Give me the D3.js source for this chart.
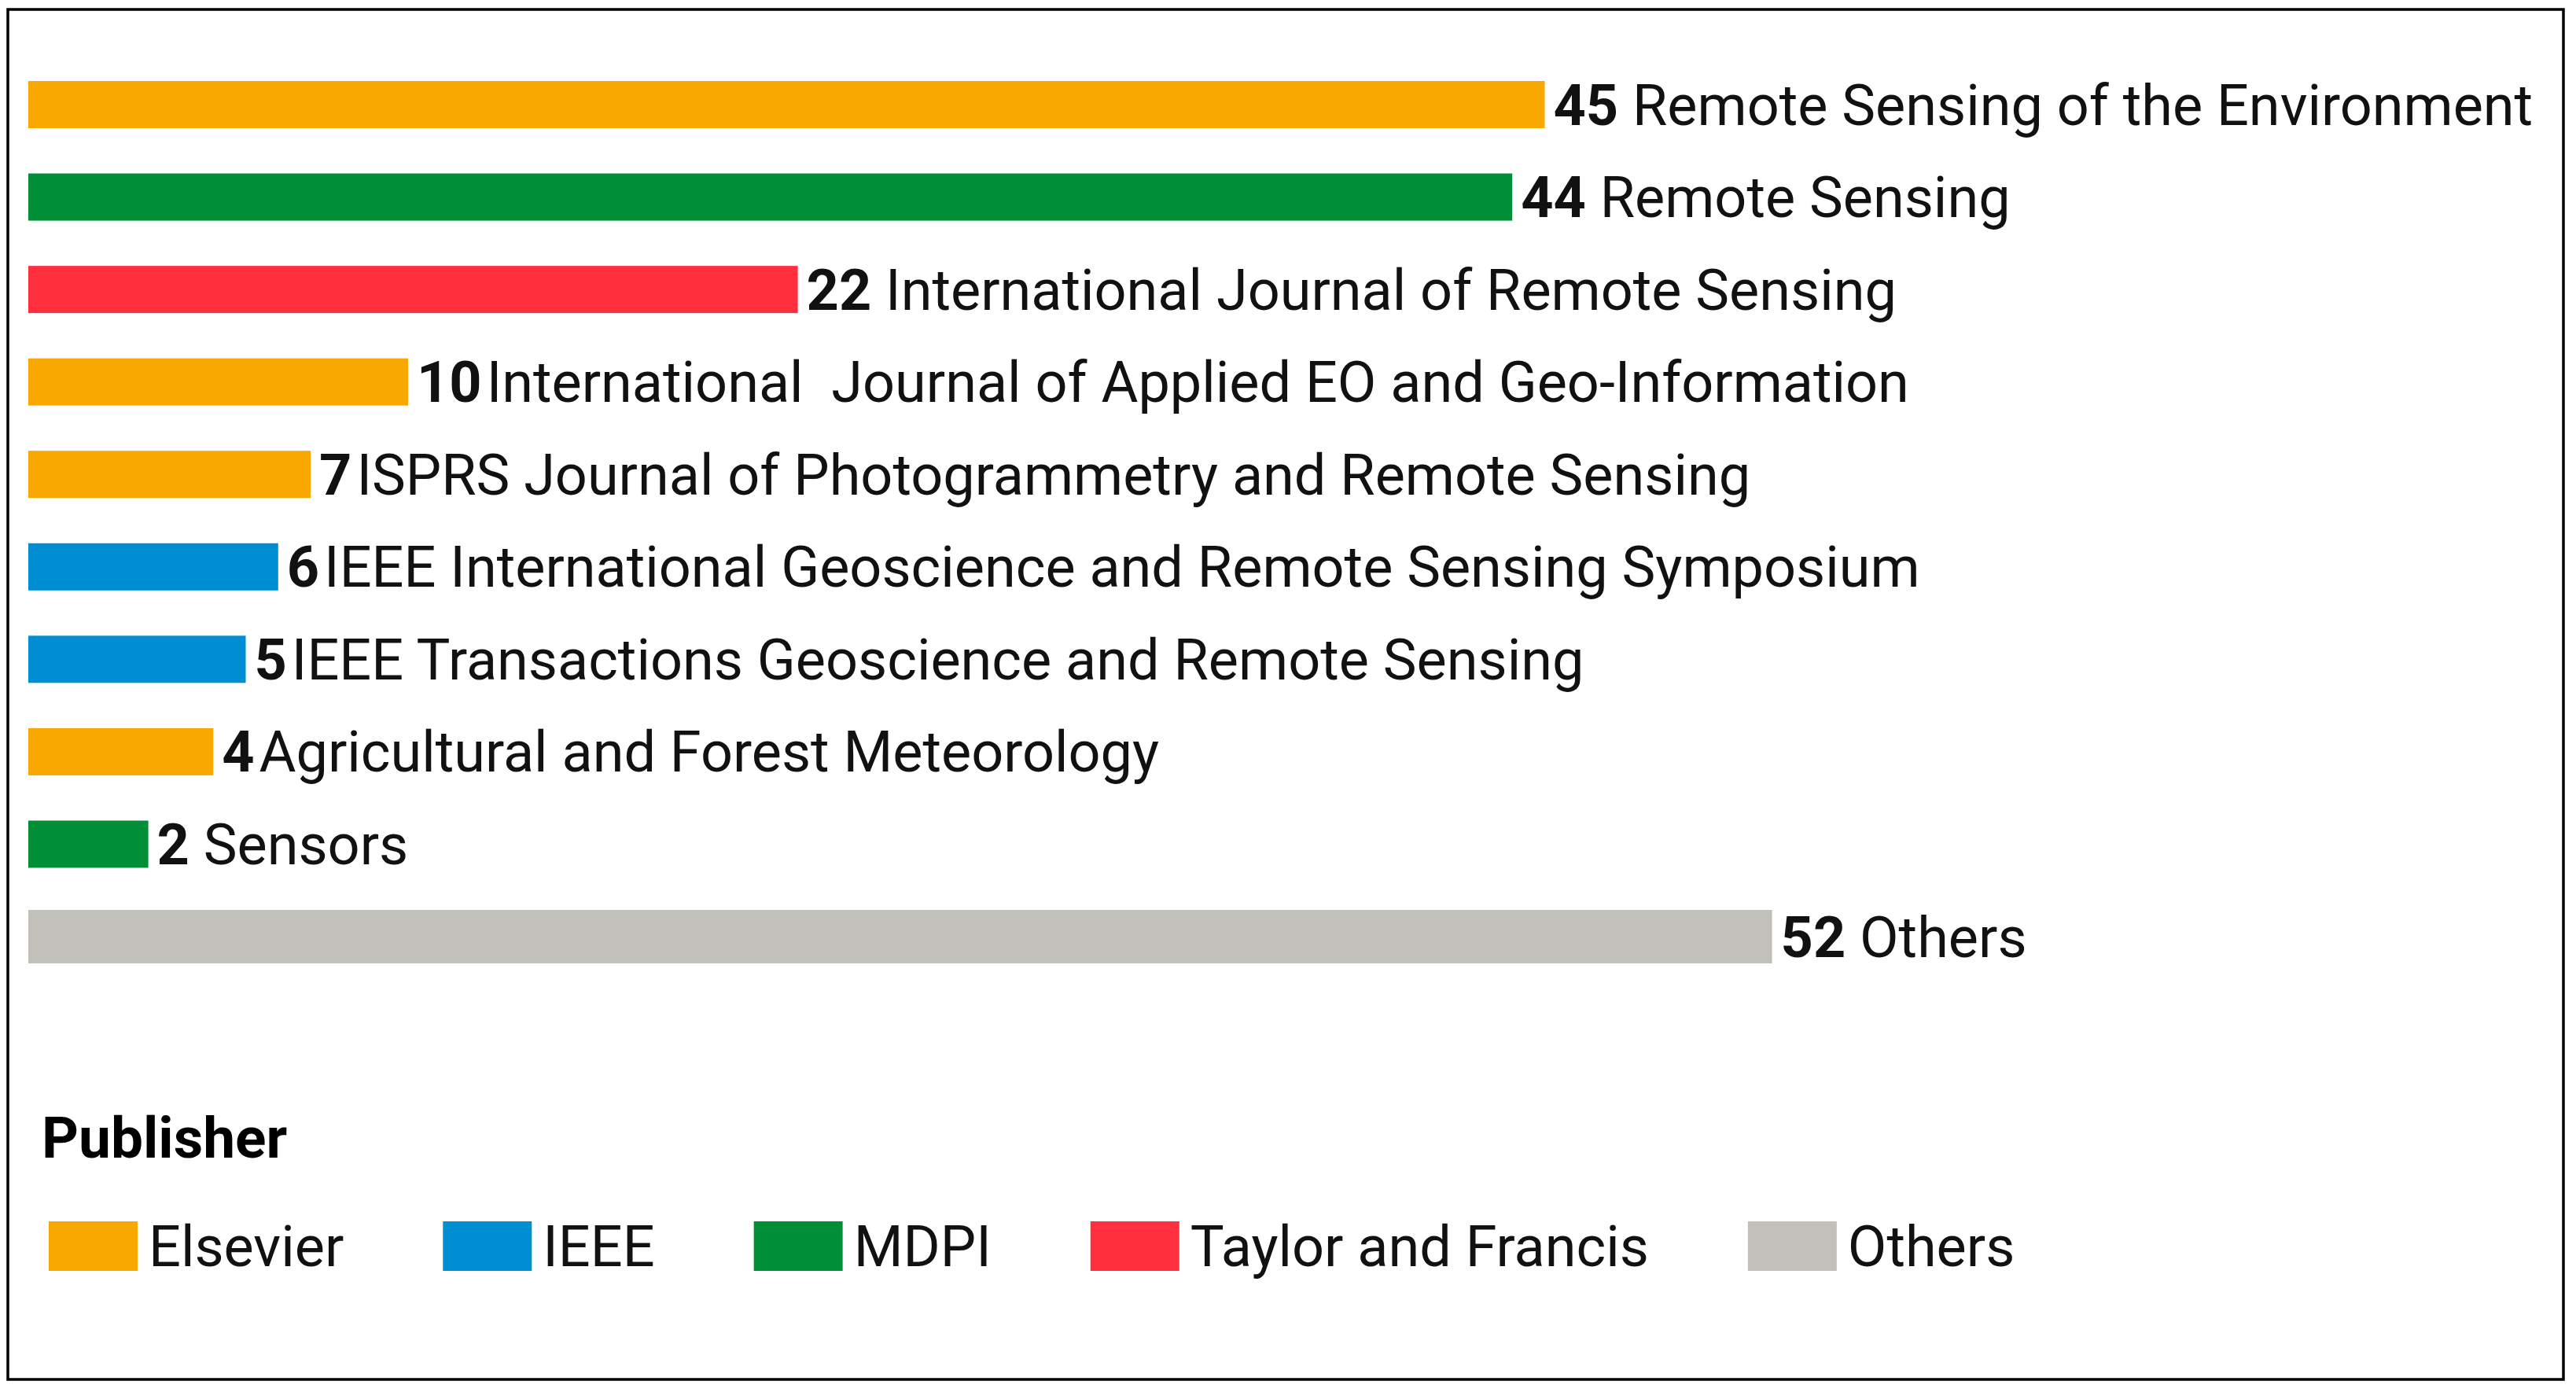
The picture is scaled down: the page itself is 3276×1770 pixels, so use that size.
<!DOCTYPE html>
<html>
<head>
<meta charset="utf-8">
<script src="https://cdn.jsdelivr.net/npm/d3@7"></script>
<style>
  html, body { margin: 0; padding: 0; background: #fff; }
  svg { display: block; font-family: Roboto, "Noto Sans", sans-serif; }
  text { white-space: pre; }
</style>
</head>
<body>
<svg id="chart"></svg>
<script>
// Journals, publication counts and publisher of each journal
var journals = [
  'Remote Sensing of the Environment',
  'Remote Sensing',
  'International Journal of Remote Sensing',
  'International  Journal of Applied EO and Geo-Information',
  'ISPRS Journal of Photogrammetry and Remote Sensing',
  'IEEE International Geoscience and Remote Sensing Symposium',
  'IEEE Transactions Geoscience and Remote Sensing',
  'Agricultural and Forest Meteorology',
  'Sensors',
  'Others'
];
var counts = [45, 44, 22, 10, 7, 6, 5, 4, 2, 52];
var publishers = ['Elsevier', 'MDPI', 'Taylor and Francis', 'Elsevier', 'Elsevier',
                  'IEEE', 'IEEE', 'Elsevier', 'MDPI', 'Others'];
// separator between the bold count and the journal name, as written in the figure
var separators = [' ', ' ', ' ', '', '', '', '', '', ' ', ' '];

var legendPublishers = ['Elsevier', 'IEEE', 'MDPI', 'Taylor and Francis', 'Others'];
var publisherColors = ['#F8A800', '#008ED3', '#008F36', '#FF2F3D', '#C1C0BB'];

var width = 3276,
    height = 1770;

var svg = d3.select('#chart')
  .attr('width', width)
  .attr('height', height);

// frame
svg.append('rect')
  .attr('x', 10)
  .attr('y', 12)
  .attr('width', 3250)
  .attr('height', 1742)
  .attr('fill', 'none')
  .attr('stroke', '#000')
  .attr('stroke-width', 3.5);

var rows = journals.map(function(j, i) {
  return { journal: j, count: counts[i], publisher: publishers[i], sep: separators[i] };
});

var x0 = 36;
var x = d3.scaleLinear()
  .domain([0, d3.max(counts)])
  .range([x0 + 70, x0 + 70 + 41.3 * 52]);

var y = d3.scalePoint()
  .domain(journals)
  .range([133, 1191]);

var color = d3.scaleOrdinal()
  .domain(legendPublishers)
  .range(publisherColors);

var barH = function(d) { return d.publisher === 'Others' ? 68 : 60; };

var g = svg.append('g');

g.selectAll('rect.bar')
  .data(rows)
  .join('rect')
  .attr('class', 'bar')
  .attr('x', x0)
  .attr('y', function(d) { return y(d.journal) - barH(d) / 2; })
  .attr('width', function(d) { return x(d.count) - x0; })
  .attr('height', barH)
  .attr('fill', function(d) { return color(d.publisher); });

var labels = g.selectAll('text.label')
  .data(rows)
  .join('text')
  .attr('class', 'label')
  .attr('xml:space', 'preserve')
  .attr('x', function(d) { return x(d.count) + 11; })
  .attr('y', function(d) { return y(d.journal); })
  .attr('dy', '0.355em')
  .style('font-size', '72px')
  .style('fill', '#111');

labels.append('tspan')
  .style('font-weight', 'bold')
  .text(function(d) { return d.count; });

labels.append('tspan')
  .attr('dx', function(d) { return d.sep ? 0 : 6; })
  .text(function(d) { return d.sep + d.journal; });

// Legend
var legend = svg.append('g');

legend.append('text')
  .attr('x', 53)
  .attr('y', 1472)
  .style('font-size', '73px')
  .style('font-weight', 'bold')
  .style('fill', '#000')
  .text('Publisher');

var swW = 113, swH = 63, swY = 1553, textGap = 14, itemGap = 126;
var lx = 62;
legendPublishers.forEach(function(p) {
  legend.append('rect')
    .attr('x', lx)
    .attr('y', swY)
    .attr('width', swW)
    .attr('height', swH)
    .attr('fill', color(p));
  var t = legend.append('text')
    .attr('x', lx + swW + textGap)
    .attr('y', 1610)
    .style('font-size', '72px')
    .style('fill', '#111')
    .text(p);
  lx += swW + textGap + t.node().getComputedTextLength() + itemGap;
});
</script>
</body>
</html>
